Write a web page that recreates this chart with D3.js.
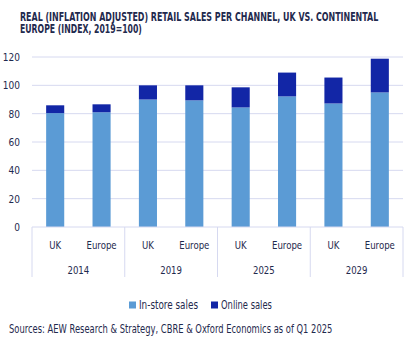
<!DOCTYPE html>
<html>
<head>
<meta charset="utf-8">
<script src="https://cdn.jsdelivr.net/npm/d3@7"></script>
<style>
  body { margin: 0; background: #fff; }
  text { font-family: "DejaVu Sans", sans-serif; fill: #1f2a4e; }
</style>
</head>
<body>
<div id="chart"></div>
<script>
// values
const years = ["2014", "2019", "2025", "2029"];
const regions = ["UK", "Europe"];
const inStore = [80.4, 81, 90, 89.4, 84.4, 92.2, 87.2, 95];
const online = [5.5, 5.6, 10, 10.6, 14.2, 16.8, 18.3, 23.8];
const yTicks = [0, 20, 40, 60, 80, 100, 120];
const seriesNames = ["In-store sales", "Online sales"];
const colors = ["#5b9bd5", "#1226a6"];

const width = 413, height = 341;
const margin = { top: 57, right: 10, bottom: 114, left: 32 };
const innerW = width - margin.left - margin.right;
const innerH = height - margin.top - margin.bottom;

// the original uses a condensed face: squeeze each text horizontally
// around its anchor point with a transform
function squeeze(sel, factor) {
  sel.each(function() {
    const el = d3.select(this);
    const px = +el.attr("x") || 0, py = +el.attr("y") || 0;
    el.attr("x", 0).attr("y", 0)
      .attr("transform", `translate(${px},${py}) scale(${factor},1)`);
  });
}
function fitTo(sel, w) {
  sel.each(function() {
    const natural = this.getComputedTextLength();
    squeeze(d3.select(this), w / natural);
  });
}

const rows = [];
years.forEach((y, i) => regions.forEach((r, j) => {
  const k = i * regions.length + j;
  rows.push({ key: y + "|" + r, year: y, region: r, inStore: inStore[k], online: online[k] });
}));

const svg = d3.select("#chart").append("svg")
  .attr("width", width)
  .attr("height", height);

// title
const t1 = svg.append("text")
  .attr("x", 20).attr("y", 20.5)
  .style("font-weight", "bold").style("font-size", "12px")
  .text("REAL (INFLATION ADJUSTED) RETAIL SALES PER CHANNEL, UK VS. CONTINENTAL");
fitTo(t1, 359);
const t2 = svg.append("text")
  .attr("x", 20).attr("y", 33)
  .style("font-weight", "bold").style("font-size", "12px")
  .text("EUROPE (INDEX, 2019=100)");
fitTo(t2, 122);

const g = svg.append("g")
  .attr("transform", `translate(${margin.left},${margin.top})`);

const x = d3.scaleBand()
  .domain(rows.map(d => d.key))
  .range([0, innerW])
  .paddingInner(0.61)
  .paddingOuter(0.305);

const y = d3.scaleLinear()
  .domain([0, 120])
  .range([innerH, 0]);

// gridlines
g.append("g")
  .selectAll("line")
  .data(yTicks.filter(t => t > 0))
  .join("line")
  .attr("x1", 0)
  .attr("x2", innerW)
  .attr("y1", d => y(d))
  .attr("y2", d => y(d))
  .attr("stroke", "#d6d9f0")
  .attr("stroke-width", 1);

// y labels
const yl = g.append("g")
  .selectAll("text")
  .data(yTicks)
  .join("text")
  .attr("x", -12)
  .attr("y", d => y(d))
  .attr("dy", "0.35em")
  .attr("text-anchor", "end")
  .style("font-size", "11px")
  .text(d => d);
squeeze(yl, 0.82);

const stack = d3.stack().keys(["inStore", "online"]);
const layers = stack(rows);

g.append("g")
  .selectAll("g")
  .data(layers)
  .join("g")
  .attr("fill", (d, i) => colors[i])
  .selectAll("rect")
  .data(d => d)
  .join("rect")
  .attr("x", d => x(d.data.key))
  .attr("width", x.bandwidth())
  .attr("y", d => y(d[1]))
  .attr("height", d => y(d[0]) - y(d[1]));

// category axis
const axisG = g.append("g").attr("transform", `translate(0,${innerH})`);
axisG.append("line")
  .attr("x1", 0).attr("x2", innerW)
  .attr("stroke", "#d6d9f0");

const groupW = innerW / years.length;
axisG.selectAll("line.sep")
  .data(d3.range(years.length + 1))
  .join("line")
  .attr("class", "sep")
  .attr("x1", d => d * groupW)
  .attr("x2", d => d * groupW)
  .attr("y1", 0)
  .attr("y2", 50)
  .attr("stroke", "#d6d9f0");

const subs = axisG.selectAll("text.sub")
  .data(rows)
  .join("text")
  .attr("class", "sub")
  .attr("x", d => x(d.key) + x.bandwidth() / 2)
  .attr("y", 18)
  .attr("dy", "0.35em")
  .attr("text-anchor", "middle")
  .style("font-size", "11px")
  .text(d => d.region);
squeeze(subs, 0.78);

const yrs = axisG.selectAll("text.year")
  .data(years)
  .join("text")
  .attr("class", "year")
  .attr("x", (d, i) => (i + 0.5) * groupW)
  .attr("y", 43)
  .attr("dy", "0.35em")
  .attr("text-anchor", "middle")
  .style("font-size", "11px")
  .text(d => d);
squeeze(yrs, 0.78);

// legend
const legend = svg.append("g").attr("transform", "translate(129,305)");
const legX = [0, 82];
const legW = [59, 51];
seriesNames.forEach((name, i) => {
  const lg = legend.append("g").attr("transform", `translate(${legX[i]},0)`);
  lg.append("rect")
    .attr("x", 0).attr("y", -3.5)
    .attr("width", 7).attr("height", 7)
    .attr("fill", colors[i]);
  const lt = lg.append("text")
    .attr("x", 10)
    .attr("y", 0)
    .attr("dy", "0.35em")
    .style("font-size", "11.5px")
    .text(name);
  fitTo(lt, legW[i]);
});

// source
const src = svg.append("text")
  .attr("x", 9)
  .attr("y", 328.5)
  .attr("dy", "0.35em")
  .style("font-size", "12px")
  .text("Sources: AEW Research & Strategy, CBRE & Oxford Economics as of Q1 2025");
fitTo(src, 324);
</script>
</body>
</html>
